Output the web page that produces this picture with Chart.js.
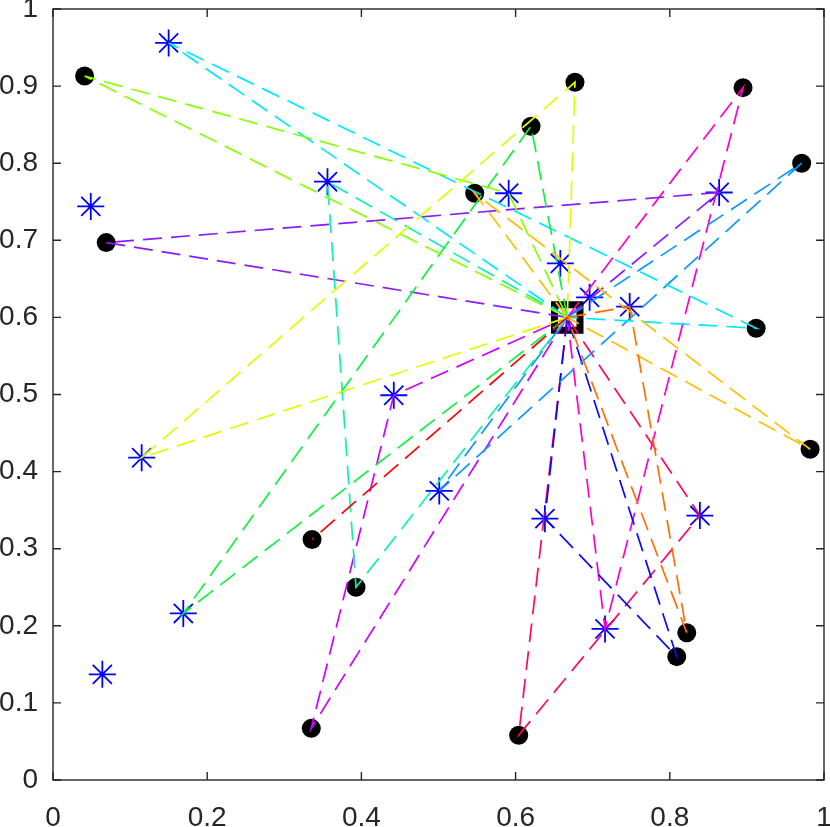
<!DOCTYPE html>
<html><head><meta charset="utf-8">
<script src="https://cdn.jsdelivr.net/npm/chart.js@4.4.1/dist/chart.umd.min.js"></script>
<style>html,body{margin:0;padding:0;background:#fff;overflow:hidden}#wrap{width:830px;height:827px;position:relative}</style>
</head><body><div id="wrap"><canvas id="c" width="830" height="827"></canvas></div>
<script>
// Black dots
const dotX = [0.041, 0.677, 0.620, 0.895, 0.971, 0.547, 0.069, 0.912, 0.982, 0.336, 0.393, 0.822, 0.809, 0.335, 0.604];
const dotY = [0.913, 0.905, 0.848, 0.898, 0.800, 0.761, 0.697, 0.586, 0.429, 0.312, 0.250, 0.191, 0.160, 0.067, 0.058];
// Blue asterisks
const starX = [0.150, 0.049, 0.356, 0.591, 0.864, 0.658, 0.696, 0.748, 0.442, 0.115, 0.501, 0.638, 0.839, 0.716, 0.169, 0.064];
const starY = [0.956, 0.744, 0.776, 0.761, 0.762, 0.670, 0.626, 0.614, 0.499, 0.418, 0.375, 0.339, 0.343, 0.196, 0.216, 0.137];
// Centre (square)
const depotX = [0.667];
const depotY = [0.600];
// Routes: centre -> stops -> centre (D = dot index, S = asterisk index, 1-based)
const routes = [
  ['D10'],
  ['S8', 'D12'],
  ['D6', 'D9'],
  ['S10', 'D2'],
  ['D1', 'S4'],
  ['D3', 'S15'],
  ['S3', 'D11'],
  ['S1', 'D8'],
  ['D5', 'S11'],
  ['S12', 'D13'],
  ['D7', 'S5'],
  ['D14', 'S9'],
  ['D4', 'S14'],
  ['D15', 'S13']
];
const xTicks = [0, 0.2, 0.4, 0.6, 0.8, 1];
const xTickLabels = ['0', '0.2', '0.4', '0.6', '0.8', '1'];
const yTicks = [0, 0.1, 0.2, 0.3, 0.4, 0.5, 0.6, 0.7, 0.8, 0.9, 1];
const yTickLabels = ['0', '0.1', '0.2', '0.3', '0.4', '0.5', '0.6', '0.7', '0.8', '0.9', '1'];

// styles
const routeColors = ['#ff0000', '#ff7000', '#ffbf00', '#dcff00', '#88ff00', '#10f040', '#10f0b0',
  '#00e8ff', '#0a98ff', '#0a0aff', '#8a1cff', '#d000ff', '#ff00c8', '#ff0860'];

function stopPoint(s) {
  const i = parseInt(s.slice(1), 10) - 1;
  return s[0] === 'D' ? {x: dotX[i], y: dotY[i]} : {x: starX[i], y: starY[i]};
}
const depot = {x: depotX[0], y: depotY[0]};

const datasets = [];
routes.forEach((r, k) => {
  const pts = r.length > 1 ? [depot, ...r.map(stopPoint), depot] : [depot, ...r.map(stopPoint)];
  datasets.push({
    data: pts,
    showLine: true, pointRadius: 0, borderColor: routeColors[k], borderWidth: 1.7,
    borderDash: [19, 9], fill: false, tension: 0, order: 0
  });
});
datasets.push({
  data: dotX.map((x, i) => ({x, y: dotY[i]})),
  pointRadius: 9.5, pointBackgroundColor: '#000', pointBorderWidth: 0, showLine: false, order: 2
});
datasets.push({
  data: starX.map((x, i) => ({x, y: starY[i]})),
  pointStyle: 'star', pointRadius: 13.5, pointBorderColor: '#0000ff', pointBorderWidth: 1.8,
  showLine: false, order: 2
});
datasets.push({
  data: [depot], pointStyle: 'rect', pointRadius: 18, pointBorderWidth: 7,
  pointBorderColor: '#000', pointBackgroundColor: '#fff', showLine: false, order: 1
});

const frame = {
  id: 'frame',
  afterDraw(chart) {
    const {ctx, chartArea: a, scales: {x, y}} = chart;
    ctx.save();
    ctx.strokeStyle = '#262626';
    ctx.lineWidth = 1.4;
    ctx.strokeRect(a.left, a.top, a.right - a.left, a.bottom - a.top);
    ctx.beginPath();
    xTicks.forEach(v => {
      const p = x.getPixelForValue(v);
      ctx.moveTo(p, a.bottom); ctx.lineTo(p, a.bottom - 8);
      ctx.moveTo(p, a.top); ctx.lineTo(p, a.top + 8);
    });
    yTicks.forEach(v => {
      const p = y.getPixelForValue(v);
      ctx.moveTo(a.left, p); ctx.lineTo(a.left + 8, p);
      ctx.moveTo(a.right, p); ctx.lineTo(a.right - 8, p);
    });
    ctx.stroke();
    ctx.restore();
  }
};

const tickFont = {family: "'Liberation Sans', Arial, sans-serif", size: 28};
new Chart(document.getElementById('c'), {
  type: 'scatter',
  data: {datasets},
  options: {
    responsive: false, animation: false, devicePixelRatio: 1,
    layout: {autoPadding: false, padding: {left: 0, top: 9, right: 6, bottom: 0}},
    plugins: {legend: {display: false}, tooltip: {enabled: false}},
    scales: {
      x: {
        type: 'linear', min: 0, max: 1,
        grid: {display: false, drawTicks: false}, border: {display: false},
        afterBuildTicks: s => { s.ticks = xTicks.map(v => ({value: v})); },
        ticks: {color: '#262626', font: tickFont, padding: 21, maxRotation: 0, autoSkip: false,
          callback: (v, i) => xTickLabels[i]},
        afterFit: s => { s.height = 47; s.paddingLeft = 0; s.paddingRight = 0; }
      },
      y: {
        type: 'linear', min: 0, max: 1,
        grid: {display: false, drawTicks: false}, border: {display: false},
        afterBuildTicks: s => { s.ticks = yTicks.map(v => ({value: v})); },
        ticks: {color: '#262626', font: tickFont, padding: 15, autoSkip: false,
          callback: (v, i) => yTickLabels[i]},
        afterFit: s => { s.width = 53; s.paddingTop = 0; s.paddingBottom = 0; }
      }
    }
  },
  plugins: [frame]
});
</script></body></html>
